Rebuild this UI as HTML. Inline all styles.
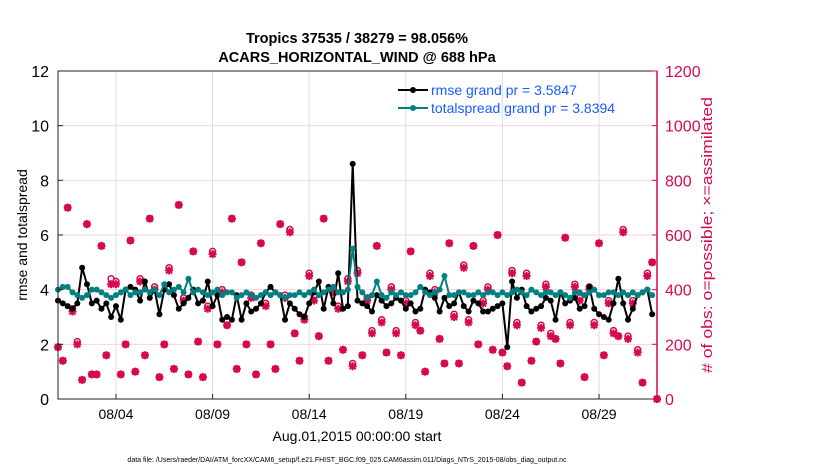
<!DOCTYPE html>
<html><head><meta charset="utf-8"><style>
body{margin:0;background:#fff;width:830px;height:470px;overflow:hidden;font-family:"Liberation Sans",sans-serif}
</style></head><body>
<svg id="chart" width="830" height="470" xmlns="http://www.w3.org/2000/svg" font-family="Liberation Sans, sans-serif">
<text x="357" y="43" font-size="14.5" font-weight="bold" text-anchor="middle">Tropics 37535 / 38279 = 98.056%</text>
<text x="357" y="62" font-size="14.5" font-weight="bold" text-anchor="middle">ACARS_HORIZONTAL_WIND @ 688 hPa</text>
<g id="grid"></g>
<g id="obs"></g>
<g id="lines"></g>
<rect x="58" y="71" width="599" height="328" fill="none" stroke="#222" stroke-width="1"/>
<g id="axes"></g>
<text transform="translate(27,235) rotate(-90)" font-size="14" text-anchor="middle">rmse and totalspread</text>
<text transform="translate(712,235) rotate(-90)" font-size="15" fill="#d6094f" text-anchor="middle" textLength="276" lengthAdjust="spacingAndGlyphs"># of obs: o=possible; ×=assimilated</text>
<text x="357" y="441" font-size="14" text-anchor="middle">Aug.01,2015 00:00:00 start</text>
<text x="347" y="462" font-size="7" text-anchor="middle">data file: /Users/raeder/DAI/ATM_forcXX/CAM6_setup/f.e21.FHIST_BGC.f09_025.CAM6assim.011/Diags_NTrS_2015-08/obs_diag_output.nc</text>
<g>
<line x1="398" y1="90" x2="428" y2="90" stroke="#000" stroke-width="2"/><circle cx="413" cy="90" r="3" fill="#000"/>
<text x="431" y="95" font-size="14" fill="#1a5cff">rmse grand pr = 3.5847</text>
<line x1="398" y1="108" x2="428" y2="108" stroke="#008080" stroke-width="2"/><circle cx="413" cy="108" r="3" fill="#008080"/>
<text x="431" y="113" font-size="14" fill="#1a5cff">totalspread grand pr = 3.8394</text>
</g>
</svg>
<script>
const xTickLabels=["08/04","08/09","08/14","08/19","08/24","08/29"];
const xTickDays=[3,8,13,18,23,28];
const leftTicks=[0,2,4,6,8,10,12];
const rightTicks=[0,200,400,600,800,1000,1200];
const rmse=[3.6,3.5,3.4,3.3,3.5,4.8,4.2,3.5,3.6,3.3,3.5,3.0,3.4,2.9,4.0,4.1,4.0,3.6,4.3,3.7,4.0,3.1,4.0,4.2,3.8,3.3,3.5,3.7,4.0,3.5,3.6,4.3,3.4,3.8,2.9,3.0,2.9,3.8,2.9,3.5,3.2,3.3,3.5,3.9,4.1,3.9,3.8,2.9,3.5,3.3,3.1,3.0,3.5,3.9,4.3,3.3,4.1,3.5,4.6,3.3,3.4,8.6,3.6,3.5,3.4,3.2,3.8,3.6,3.4,3.5,3.7,3.6,3.3,3.5,3.2,3.3,4.0,3.9,3.7,3.2,3.7,3.4,3.5,3.9,3.4,3.2,3.6,3.5,3.2,3.2,3.3,3.4,3.5,1.9,4.3,3.7,4.0,3.4,3.2,3.3,3.4,3.7,3.6,2.9,3.9,3.5,3.6,3.7,3.3,3.4,4.1,3.3,3.1,3.0,2.9,3.5,4.4,3.5,2.9,3.3,3.8,3.9,4.0,3.1];
const spread=[4.0,4.1,4.1,3.9,3.8,3.7,3.8,4.0,4.0,3.9,3.8,3.7,3.8,3.9,4.0,3.8,3.9,3.9,4.0,3.9,4.0,3.8,4.2,3.9,4.0,4.1,3.9,4.4,3.9,4.0,3.9,3.8,3.9,4.0,3.8,3.9,3.9,3.7,3.8,3.9,3.8,3.7,3.8,3.9,3.8,3.9,3.8,3.7,3.8,3.8,3.9,3.8,3.9,4.0,3.8,3.9,4.0,4.1,3.9,3.9,4.0,5.5,4.1,3.9,3.7,3.8,4.3,3.8,3.7,3.9,3.8,3.9,3.8,3.8,3.9,4.1,3.9,3.8,3.9,4.0,4.5,3.8,3.8,3.9,3.9,3.8,3.8,3.9,3.8,3.9,3.9,3.8,3.9,3.8,3.9,4.0,3.9,3.8,4.0,3.9,3.8,3.9,3.9,3.8,3.9,3.8,3.7,3.9,3.9,3.8,3.9,4.0,3.8,3.8,3.9,3.9,3.8,3.9,3.8,3.9,3.8,3.9,4.0,3.8];
const possible=[190,140,700,330,210,70,640,90,90,560,160,440,430,90,200,580,100,440,160,660,410,80,200,480,110,710,370,90,540,210,80,340,540,200,400,270,660,110,500,200,380,90,570,350,200,110,640,380,620,240,140,300,460,380,230,660,140,400,340,180,440,130,470,160,370,250,560,290,170,410,250,160,360,540,280,250,100,460,400,220,130,570,310,130,490,290,560,200,360,410,180,600,170,120,470,280,60,460,140,210,270,420,240,220,130,590,280,420,370,80,410,280,570,160,360,250,230,620,230,360,180,60,460,500,0];
const assimilated=[190,140,700,320,200,70,640,90,90,560,160,420,420,90,200,580,100,430,160,660,400,80,200,470,110,710,360,90,540,210,80,330,530,200,390,270,660,110,500,200,370,90,570,340,200,110,640,370,610,240,140,290,450,360,230,660,140,390,330,180,430,120,460,160,360,240,560,280,170,400,240,160,350,540,270,250,100,450,390,220,130,570,300,130,480,280,560,200,350,400,180,600,170,120,460,270,60,450,140,210,260,410,230,220,130,590,270,410,360,80,400,270,570,160,350,240,230,610,220,350,170,60,450,500,0];

const NS="http://www.w3.org/2000/svg";
const X0=58,X1=657,Y0=399,Y1=71,DAYS=31;
const xs=d=>X0+(d/DAYS)*(X1-X0);
const yl=v=>Y0-(v/12)*(Y0-Y1);
const yr=v=>Y0-(v/1200)*(Y0-Y1);
const dayOf=i=>i*0.25;
function mk(tag,attrs,parent){const e=document.createElementNS(NS,tag);for(const k in attrs)e.setAttribute(k,attrs[k]);parent.appendChild(e);return e;}
const grid=document.getElementById('grid'),axes=document.getElementById('axes'),obs=document.getElementById('obs'),lines=document.getElementById('lines');

rightTicks.forEach((t,i)=>{
 if(i>0&&i<rightTicks.length-1){const g=mk('line',{x1:X0,x2:X1,y1:yr(t),y2:yr(t),stroke:'#f6d3e0','stroke-width':1},grid);
 
 }
 mk('line',{x1:X1-5,x2:X1,y1:yr(t),y2:yr(t),stroke:'#d6094f'},axes);
 const tx=mk('text',{x:X1+8,y:yr(t)+6,'font-size':16,fill:'#d6094f'},axes);tx.textContent=t;
 
 
});
mk('line',{x1:X1,x2:X1,y1:Y1,y2:Y0,stroke:'#d6094f','stroke-width':1.5},axes);
leftTicks.forEach(t=>{
 mk('line',{x1:X0,x2:X0+5,y1:yl(t),y2:yl(t),stroke:'#222'},axes);
 const tx=mk('text',{x:X0-9,y:yl(t)+6,'font-size':16,'text-anchor':'end'},axes);tx.textContent=t;
 
 
});
xTickDays.forEach((d,i)=>{
 const g=mk('line',{x1:xs(d),x2:xs(d),y1:Y1,y2:Y0,stroke:'#ddd','stroke-width':1},grid);
 
 
 mk('line',{x1:xs(d),x2:xs(d),y1:Y0,y2:Y0-5,stroke:'#222'},axes);
 const tx=mk('text',{x:xs(d),y:419,'font-size':14,'text-anchor':'middle'},axes);tx.textContent=xTickLabels[i];
 
 
});

possible.forEach((v,i)=>{
 const x=xs(dayOf(i));
 const c=mk('circle',{cx:x,cy:yr(v),r:3,fill:'none',stroke:'#d6094f','stroke-width':1.5},obs);
 
 
});
assimilated.forEach((v,i)=>{
 const x=xs(dayOf(i)),y=yr(v);
 const p=mk('path',{d:`M${x-4} ${y}H${x+4}M${x} ${y-4}V${y+4}M${x-3} ${y-3}L${x+3} ${y+3}M${x-3} ${y+3}L${x+3} ${y-3}`,stroke:'#d6094f','stroke-width':2},obs);
 
 
});
function series(arr,color,name){
 const pts=arr.map((v,i)=>xs(dayOf(i)).toFixed(1)+','+yl(v).toFixed(1)).join(' ');
 const pl=mk('polyline',{points:pts,fill:'none',stroke:color,'stroke-width':2},lines);
 
 
 arr.forEach((v,i)=>{const c=mk('circle',{cx:xs(dayOf(i)),cy:yl(v),r:3,fill:color},lines);
 
 });
}
series(rmse,'#000','rmse');
series(spread,'#008080','totalspread');
</script>
</body></html>
